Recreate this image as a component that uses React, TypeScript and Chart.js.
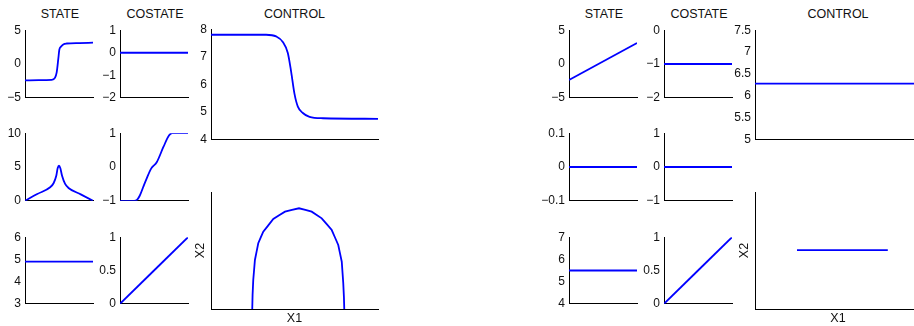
import React, { useEffect, useRef } from "react";
import { Chart, registerables } from "chart.js";

Chart.register(...registerables);

const FONT = "'Liberation Sans', Arial, Helvetica, sans-serif";
const BLUE = "#0000ff";
const INK = "#111111";

// ---------- Left group data ----------
const L_STATE1_X = [0, 0.2, 0.39, 0.44, 0.466, 0.49, 0.505, 0.53, 0.563, 0.61, 0.8, 1];
const L_STATE1_Y = [-2.42, -2.4, -2.36, -2.06, -1.25, 0.78, 2.12, 2.57, 2.9, 3.03, 3.1, 3.16];
const L_COSTATE1_X = [0, 1];
const L_COSTATE1_Y = [0, 0];
const L_STATE2_X = [0, 0.18, 0.37, 0.42, 0.46, 0.48, 0.5, 0.52, 0.545, 0.59, 0.64, 0.82, 1];
const L_STATE2_Y = [0, 1.0, 2.0, 2.6, 3.7, 4.8, 5.2, 4.8, 3.7, 2.5, 1.9, 0.95, 0];
const L_COSTATE2_X = [0, 0.21, 0.25, 0.29, 0.34, 0.39, 0.46, 0.54, 0.64, 0.72, 0.77, 1];
const L_COSTATE2_Y = [-1, -1, -0.97, -0.85, -0.6, -0.35, -0.04, 0.14, 0.6, 0.93, 1, 1];
const L_STATE3_X = [0, 1];
const L_STATE3_Y = [4.9, 4.9];
const L_COSTATE3_X = [0, 1];
const L_COSTATE3_Y = [0, 1];
const L_CONTROL_X = [0, 0.33, 0.39, 0.43, 0.46, 0.48, 0.5, 0.52, 0.55, 0.59, 0.67, 1];
const L_CONTROL_Y = [7.8, 7.8, 7.74, 7.54, 7.14, 6.46, 5.66, 5.2, 4.97, 4.83, 4.78, 4.76];
const L_PHASE_X = [0.247, 0.249, 0.253, 0.263, 0.283, 0.313, 0.373, 0.443, 0.527, 0.603, 0.663, 0.723, 0.762, 0.783, 0.792, 0.796, 0.798];
const L_PHASE_Y = [0, 0.12, 0.248, 0.419, 0.562, 0.661, 0.769, 0.832, 0.861, 0.832, 0.775, 0.675, 0.547, 0.404, 0.22, 0.1, 0];

// ---------- Right group data ----------
const R_STATE1_X = [0, 1];
const R_STATE1_Y = [-2.37, 3.11];
const R_COSTATE1_X = [0, 1];
const R_COSTATE1_Y = [-1, -1];
const R_STATE2_X = [0, 1];
const R_STATE2_Y = [0, 0];
const R_COSTATE2_X = [0, 1];
const R_COSTATE2_Y = [0, 0];
const R_STATE3_X = [0, 1];
const R_STATE3_Y = [5.5, 5.5];
const R_COSTATE3_X = [0, 1];
const R_COSTATE3_Y = [0, 1];
const R_CONTROL_X = [0, 1];
const R_CONTROL_Y = [6.28, 6.28];
const R_PHASE_X = [0.253, 0.8];
const R_PHASE_Y = [0.504, 0.504];

// ---------- Tick values ----------
const TICKS_STATE1 = [-5, 0, 5];
const TICKS_COSTATE1_L = [-2, -1, 0, 1];
const TICKS_STATE2_L = [0, 5, 10];
const TICKS_COSTATE2_L = [-1, 0, 1];
const TICKS_STATE3_L = [3, 4, 5, 6];
const TICKS_UNIT = [0, 0.5, 1];
const TICKS_CONTROL_L = [4, 5, 6, 7, 8];
const TICKS_COSTATE1_R = [-2, -1, 0];
const TICKS_STATE2_R = [-0.1, 0, 0.1];
const TICKS_COSTATE2_R = [-1, 0, 1];
const TICKS_STATE3_R = [4, 5, 6, 7];
const TICKS_CONTROL_R = [5, 5.5, 6, 6.5, 7, 7.5];

const TITLES = [
  { text: "STATE", cx: 60 },
  { text: "COSTATE", cx: 155 },
  { text: "CONTROL", cx: 294.5 },
  { text: "STATE", cx: 604 },
  { text: "COSTATE", cx: 699 },
  { text: "CONTROL", cx: 838 },
];

type PanelDef = {
  id: string;
  l: number; t: number; r: number; b: number;
  xs: number[]; ys: number[];
  ticks: number[] | null;
  yMin: number; yMax: number;
  smooth: boolean;
  phase?: boolean;
};

const PANELS: PanelDef[] = [
  { id: "ls1", l: 25, t: 29, r: 93, b: 103, xs: L_STATE1_X, ys: L_STATE1_Y, ticks: TICKS_STATE1, yMin: -5, yMax: 5, smooth: true },
  { id: "lc1", l: 120, t: 29, r: 188, b: 103, xs: L_COSTATE1_X, ys: L_COSTATE1_Y, ticks: TICKS_COSTATE1_L, yMin: -2, yMax: 1, smooth: false },
  { id: "ls2", l: 25, t: 132, r: 93, b: 206, xs: L_STATE2_X, ys: L_STATE2_Y, ticks: TICKS_STATE2_L, yMin: 0, yMax: 10, smooth: true },
  { id: "lc2", l: 120, t: 132, r: 188, b: 206, xs: L_COSTATE2_X, ys: L_COSTATE2_Y, ticks: TICKS_COSTATE2_L, yMin: -1, yMax: 1, smooth: true },
  { id: "ls3", l: 25, t: 236, r: 93, b: 309, xs: L_STATE3_X, ys: L_STATE3_Y, ticks: TICKS_STATE3_L, yMin: 3, yMax: 6, smooth: false },
  { id: "lc3", l: 120, t: 236, r: 188, b: 309, xs: L_COSTATE3_X, ys: L_COSTATE3_Y, ticks: TICKS_UNIT, yMin: 0, yMax: 1, smooth: false },
  { id: "lct", l: 211, t: 28, r: 378, b: 145, xs: L_CONTROL_X, ys: L_CONTROL_Y, ticks: TICKS_CONTROL_L, yMin: 4, yMax: 8, smooth: true },
  { id: "lph", l: 211, t: 192, r: 378, b: 309, xs: L_PHASE_X, ys: L_PHASE_Y, ticks: null, yMin: 0, yMax: 1, smooth: false, phase: true },
  { id: "rs1", l: 569, t: 29, r: 637, b: 103, xs: R_STATE1_X, ys: R_STATE1_Y, ticks: TICKS_STATE1, yMin: -5, yMax: 5, smooth: false },
  { id: "rc1", l: 664, t: 29, r: 732, b: 103, xs: R_COSTATE1_X, ys: R_COSTATE1_Y, ticks: TICKS_COSTATE1_R, yMin: -2, yMax: 0, smooth: false },
  { id: "rs2", l: 569, t: 132, r: 637, b: 206, xs: R_STATE2_X, ys: R_STATE2_Y, ticks: TICKS_STATE2_R, yMin: -0.1, yMax: 0.1, smooth: false },
  { id: "rc2", l: 664, t: 132, r: 732, b: 206, xs: R_COSTATE2_X, ys: R_COSTATE2_Y, ticks: TICKS_COSTATE2_R, yMin: -1, yMax: 1, smooth: false },
  { id: "rs3", l: 569, t: 236, r: 637, b: 309, xs: R_STATE3_X, ys: R_STATE3_Y, ticks: TICKS_STATE3_R, yMin: 4, yMax: 7, smooth: false },
  { id: "rc3", l: 664, t: 236, r: 732, b: 309, xs: R_COSTATE3_X, ys: R_COSTATE3_Y, ticks: TICKS_UNIT, yMin: 0, yMax: 1, smooth: false },
  { id: "rct", l: 755, t: 29, r: 921, b: 145, xs: R_CONTROL_X, ys: R_CONTROL_Y, ticks: TICKS_CONTROL_R, yMin: 5, yMax: 7.5, smooth: false },
  { id: "rph", l: 755, t: 192, r: 921, b: 309, xs: R_PHASE_X, ys: R_PHASE_Y, ticks: null, yMin: 0, yMax: 1, smooth: false, phase: true },
];

const PAD_TOP = 10;
const PAD_RIGHT = 3;

function geom(p: PanelDef) {
  const labelW = p.phase ? 20 : 34;
  const bottomH = p.phase ? 326 - p.b : 6;
  const W = labelW + (p.r - p.l) + PAD_RIGHT;
  const H = PAD_TOP + (p.b - p.t) + bottomH;
  return { labelW, bottomH, W, H, left: p.l - labelW, top: p.t - PAD_TOP };
}

function fmt(v: number) {
  const s = String(Math.round(v * 1000) / 1000);
  return s.replace("-", "\u2212");
}

function Panel({ p }: { p: PanelDef }) {
  const ref = useRef<HTMLCanvasElement | null>(null);
  const g = geom(p);
  useEffect(() => {
    if (!ref.current) return;
    const data = p.xs.map((x, i) => ({ x, y: p.ys[i] }));
    const tickFont = { family: FONT, size: 12 };
    const titleFont = { family: FONT, size: 12.5 };
    const chart = new Chart(ref.current, {
      type: "line",
      data: {
        datasets: [
          {
            data,
            borderColor: BLUE,
            borderWidth: 1.8,
            pointRadius: 0,
            fill: false,
            // tiny tension avoids Chart.js "fast path" pixel-column merging
            tension: 0.001,
            cubicInterpolationMode: p.smooth ? "monotone" : "default",
          } as any,
        ],
      },
      options: {
        animation: false,
        responsive: false,
        events: [],
        layout: { padding: { top: PAD_TOP, right: PAD_RIGHT, bottom: 0, left: 0 } },
        plugins: { legend: { display: false }, tooltip: { enabled: false }, title: { display: false } },
        scales: {
          x: {
            type: "linear",
            min: 0,
            max: 1,
            grid: { display: false, drawTicks: false },
            border: { display: true, color: "#000", width: 1 },
            ticks: { display: false },
            title: p.phase
              ? { display: true, text: "X1", color: INK, font: titleFont, padding: { top: 0, bottom: 0 } }
              : { display: false },
            afterFit: (s: any) => {
              s.height = g.bottomH;
            },
          } as any,
          y: {
            type: "linear",
            min: p.yMin,
            max: p.yMax,
            grid: { display: false, drawTicks: false },
            border: { display: true, color: "#000", width: 1 },
            ticks: {
              display: !!p.ticks,
              color: INK,
              font: tickFont,
              padding: 4,
              autoSkip: false,
              callback: (v: any) => fmt(Number(v)),
            },
            title: p.phase
              ? { display: true, text: "X2", color: INK, font: titleFont, padding: { top: 2, bottom: 0 } }
              : { display: false },
            afterBuildTicks: (s: any) => {
              if (p.ticks) s.ticks = p.ticks.map((v) => ({ value: v }));
              else s.ticks = [];
            },
            afterFit: (s: any) => {
              s.width = g.labelW;
            },
          } as any,
        },
      },
    });
    return () => chart.destroy();
  }, []);
  return (
    <canvas
      ref={ref}
      width={g.W}
      height={g.H}
      style={{ position: "absolute", left: g.left, top: g.top, width: g.W, height: g.H }}
    />
  );
}

export default function App() {
  return (
    <div
      style={{
        position: "fixed",
        left: 0,
        top: 0,
        width: 914,
        height: 326,
        overflow: "hidden",
        background: "#fff",
        fontFamily: FONT,
      }}
    >
      {TITLES.map((t, i) => (
        <div
          key={i}
          style={{
            position: "absolute",
            left: t.cx - 60,
            top: 6,
            width: 120,
            textAlign: "center",
            fontSize: 12.5,
            lineHeight: "16px",
            color: INK,
          }}
        >
          {t.text}
        </div>
      ))}
      {PANELS.map((p) => (
        <Panel key={p.id} p={p} />
      ))}
    </div>
  );
}
